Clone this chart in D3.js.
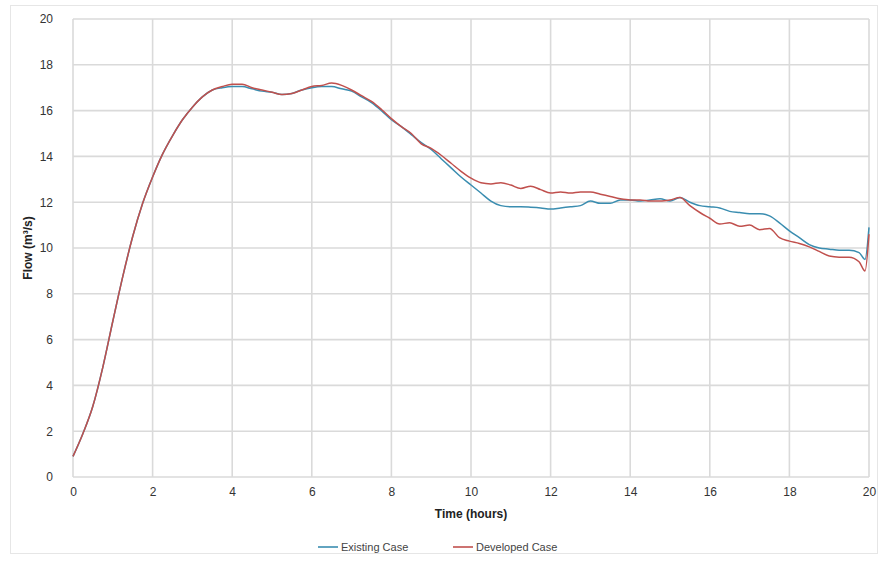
<!DOCTYPE html>
<html>
<head>
<meta charset="utf-8">
<script src="https://cdn.jsdelivr.net/npm/d3@7"></script>
<style>
  body { margin: 0; background: #fff; }
  text { font-family: "Liberation Sans", Arial, sans-serif; }
</style>
</head>
<body>
<div id="chart"></div>
<script>
// time in hours
var time = [0, 0.25, 0.5, 0.75, 1, 1.25, 1.5, 1.75, 2, 2.25, 2.5, 2.75, 3, 3.25, 3.5, 3.75,
  4, 4.25, 4.5, 4.75, 5, 5.25, 5.5, 5.75, 6, 6.25, 6.5, 6.75, 7, 7.25, 7.5, 7.75,
  8, 8.25, 8.5, 8.75, 9, 9.25, 9.5, 9.75, 10, 10.25, 10.5, 10.75, 11, 11.25, 11.5, 11.75,
  12, 12.25, 12.5, 12.75, 13, 13.25, 13.5, 13.75, 14, 14.25, 14.5, 14.75, 15, 15.25, 15.5, 15.75,
  16, 16.25, 16.5, 16.75, 17, 17.25, 17.5, 17.75, 18, 18.25, 18.5, 18.75, 19, 19.25, 19.5, 19.75,
  19.9, 20];

var existing = [0.9, 1.9, 3.1, 4.8, 6.8, 8.75, 10.5, 11.95, 13.1, 14.1, 14.9, 15.6, 16.15, 16.6, 16.9, 17.0,
  17.05, 17.05, 16.95, 16.85, 16.8, 16.7, 16.75, 16.9, 17.0, 17.05, 17.05, 16.95, 16.85, 16.6, 16.35, 16.0,
  15.6, 15.3, 14.95, 14.6, 14.3, 13.9, 13.5, 13.1, 12.75, 12.4, 12.05, 11.85, 11.8, 11.8, 11.78, 11.75,
  11.7, 11.75, 11.8, 11.85, 12.05, 11.95, 11.95, 12.1, 12.1, 12.05, 12.1, 12.15, 12.05, 12.2, 12.0, 11.85,
  11.8, 11.75, 11.6, 11.55, 11.5, 11.5, 11.4, 11.1, 10.75, 10.45, 10.15, 10.0, 9.95, 9.9, 9.9, 9.8,
  9.5, 10.9];

var developed = [0.9, 1.9, 3.1, 4.8, 6.8, 8.75, 10.5, 11.95, 13.1, 14.1, 14.9, 15.6, 16.15, 16.6, 16.9, 17.05,
  17.15, 17.15, 17.0, 16.9, 16.8, 16.7, 16.75, 16.9, 17.05, 17.1, 17.2, 17.1, 16.9, 16.65, 16.4, 16.05,
  15.65, 15.3, 15.0, 14.55, 14.35, 14.05, 13.7, 13.35, 13.05, 12.85, 12.8, 12.85, 12.75, 12.6, 12.7, 12.55,
  12.4, 12.45, 12.4, 12.45, 12.45, 12.35, 12.25, 12.15, 12.1, 12.1, 12.05, 12.05, 12.1, 12.2, 11.85, 11.55,
  11.3, 11.05, 11.1, 10.95, 11.0, 10.8, 10.85, 10.45, 10.3, 10.2, 10.05, 9.85, 9.65, 9.6, 9.6, 9.4,
  9.0, 10.6];

var xTicks = [0, 2, 4, 6, 8, 10, 12, 14, 16, 18, 20];
var yTicks = [0, 2, 4, 6, 8, 10, 12, 14, 16, 18, 20];

var seriesNames = ["Existing Case", "Developed Case"];
var seriesColors = ["#3a8db0", "#c0504d"];

var W = 880, H = 562;
var margin = {top: 19, right: 11, bottom: 85, left: 73};
var width = W - margin.left - margin.right,
    height = H - margin.top - margin.bottom;

var svg = d3.select("#chart")
  .append("svg")
    .attr("width", W)
    .attr("height", H);

// chart border
svg.append("rect")
  .attr("x", 10.5).attr("y", 5.5)
  .attr("width", W - 13).attr("height", 548)
  .attr("fill", "none")
  .attr("stroke", "#e6e6e6");

var g = svg.append("g")
  .attr("transform", "translate(" + margin.left + "," + margin.top + ")");

var x = d3.scaleLinear().domain([0, 20]).range([0, width]);
var y = d3.scaleLinear().domain([0, 20]).range([height, 0]);

// gridlines
g.append("g")
  .selectAll("line")
  .data(yTicks)
  .enter().append("line")
    .attr("x1", 0).attr("x2", width)
    .attr("y1", function(d) { return y(d); })
    .attr("y2", function(d) { return y(d); })
    .attr("stroke", "#dadada")
    .attr("stroke-width", 1.6);

g.append("g")
  .selectAll("line")
  .data(xTicks)
  .enter().append("line")
    .attr("y1", 0).attr("y2", height)
    .attr("x1", function(d) { return x(d); })
    .attr("x2", function(d) { return x(d); })
    .attr("stroke", "#dadada")
    .attr("stroke-width", 1.6);

// axes (labels only)
var xAxis = g.append("g")
  .attr("transform", "translate(0," + height + ")")
  .call(d3.axisBottom(x).tickValues(xTicks).tickSize(0).tickPadding(10));
var yAxis = g.append("g")
  .call(d3.axisLeft(y).tickValues(yTicks).tickSize(0).tickPadding(20));

[xAxis, yAxis].forEach(function(a) {
  a.select(".domain").remove();
  a.selectAll("text")
    .attr("font-size", "12px")
    .attr("fill", "#333")
    .style("font-family", "'Liberation Sans', Arial, sans-serif");
});

// axis titles
g.append("text")
  .attr("x", width / 2)
  .attr("y", height + 41)
  .attr("text-anchor", "middle")
  .attr("font-size", "12px")
  .attr("font-weight", "bold")
  .attr("fill", "#222")
  .text("Time (hours)");

g.append("text")
  .attr("transform", "translate(" + (-41) + "," + (height / 2) + ") rotate(-90)")
  .attr("text-anchor", "middle")
  .attr("font-size", "12px")
  .attr("font-weight", "bold")
  .attr("fill", "#222")
  .text("Flow (m³/s)");

// lines
var data = [existing, developed];
var line = d3.line()
  .x(function(d, i) { return x(time[i]); })
  .y(function(d) { return y(d); })
  .curve(d3.curveMonotoneX);

g.selectAll(".series")
  .data(data)
  .enter().append("path")
    .attr("class", "series")
    .attr("d", function(d) { return line(d); })
    .attr("fill", "none")
    .attr("stroke", function(d, i) { return seriesColors[i]; })
    .attr("stroke-width", 1.5)
    .attr("stroke-linejoin", "round");

// legend
var legendX = [318, 453];
var legend = svg.selectAll(".legend")
  .data(seriesNames)
  .enter().append("g")
    .attr("class", "legend")
    .attr("transform", function(d, i) { return "translate(" + legendX[i] + ",547)"; });

legend.append("line")
  .attr("x1", 0).attr("x2", 20)
  .attr("y1", 0).attr("y2", 0)
  .attr("stroke", function(d, i) { return seriesColors[i]; })
  .attr("stroke-width", 1.6);

legend.append("text")
  .attr("x", 23)
  .attr("y", 4)
  .attr("font-size", "11px")
  .attr("fill", "#444")
  .text(function(d) { return d; });
</script>
</body>
</html>
